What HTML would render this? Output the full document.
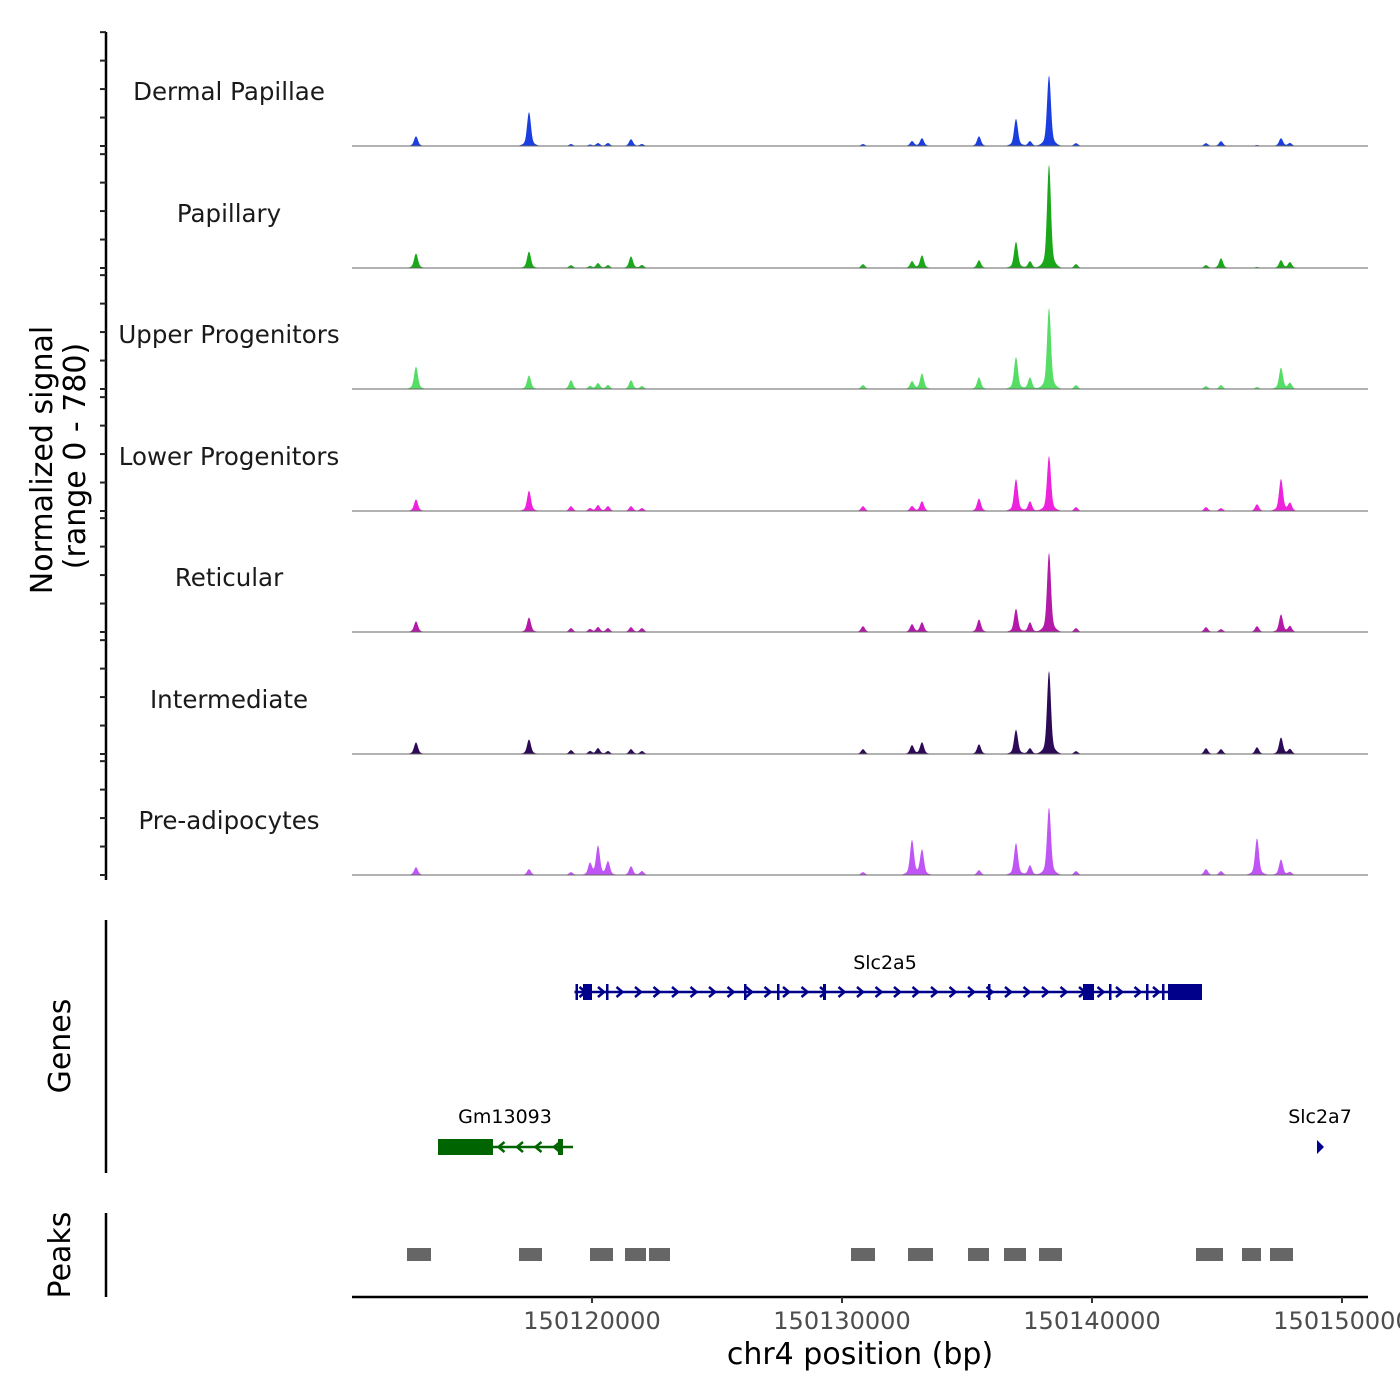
<!DOCTYPE html>
<html><head><meta charset="utf-8"><style>
body{margin:0;background:#fff}
svg{display:block;font-family:"DejaVu Sans","Liberation Sans",sans-serif}
</style></head><body>
<svg id="chart" width="1400" height="1400" viewBox="0 0 1400 1400"></svg>
<script>
const trackNames=["Dermal Papillae","Papillary","Upper Progenitors","Lower Progenitors","Reticular","Intermediate","Pre-adipocytes"];
const trackColors=["#1a3ee0","#1aa81a","#55dd66","#ee22dd","#b31aa8","#2d0a55","#c055f5"];
const peakPos=[150112960,150117480,150119160,150119920,150120240,150120640,150121560,150122000,150130840,150132800,150133200,150135480,150136960,150137520,150138280,150139360,150144560,150145160,150146600,150147560,150147920];
const sigDermal=[70,245,14,10,21,21,49,14,14,35,56,70,196,35,511,21,21,35,7,56,21];
const sigPapillary=[105,119,21,14,35,21,84,21,28,49,91,56,189,49,749,28,21,70,7,56,42];
const sigUpper=[161,98,63,21,42,28,63,21,28,56,112,84,231,84,588,28,21,28,14,154,42];
const sigLower=[84,147,35,21,42,35,35,21,35,35,70,91,231,70,399,28,28,21,49,231,56];
const sigReticular=[77,105,28,21,35,28,35,28,42,56,70,91,168,70,574,28,35,21,42,126,42];
const sigIntermediate=[84,105,28,21,42,21,35,21,35,63,84,70,175,42,602,21,42,35,49,119,35];
const sigPreadip=[56,42,21,84,210,98,63,28,21,252,182,35,231,70,490,28,42,28,266,112,21];
const allSignals=[sigDermal,sigPapillary,sigUpper,sigLower,sigReticular,sigIntermediate,sigPreadip];
const xTicks=[150120000,150130000,150140000,150150000];
const xTickLabels=["150120000","150130000","150140000","150150000"];
const yTicks=[0,200,400,600,800];
const peakStarts=[150112600,150117080,150119920,150121320,150122280,150130360,150132640,150135040,150136480,150137880,150144160,150146000,150147120];
const peakEnds=[150113560,150118000,150120840,150122160,150123120,150131320,150133640,150135880,150137360,150138800,150145240,150146760,150148040];
const geneNames=["Slc2a5","Gm13093","Slc2a7"];
const geneStarts=[150119300,150113840,150149080];
const geneEnds=[150144400,150119240,150149240];
const geneStrand=[1,-1,1];
const slcExonStarts=[150119340,150119640,150120560,150126080,150127400,150129240,150135840,150139640,150139960,150140680,150142160,150142800,150143040];
const slcExonEnds=[150119440,150120000,150120640,150126160,150127480,150129360,150135920,150140080,150140080,150140760,150142240,150142880,150144400];
const gmExonStarts=[150113840,150118640];
const gmExonEnds=[150116040,150118840];

const NS="http://www.w3.org/2000/svg";
const svg=document.getElementById("chart");
function el(tag,attrs,parent){const e=document.createElementNS(NS,tag);for(const k in attrs)e.setAttribute(k,attrs[k]);(parent||svg).appendChild(e);return e;}
const X0=352,X1=1368,BP0=150110400,BP_PER_PX=40;
function xs(bp){return X0+(bp-BP0)/BP_PER_PX;}
const PX_PER_UNIT=111/780;
const baselines=[146,268,389,511,632,754,875];

let ax=el("line",{x1:106,y1:32,x2:106,y2:880,stroke:"#000","stroke-width":2.5});


baselines.forEach((b,i)=>{
  yTicks.forEach(v=>{
    const y=b-v*PX_PER_UNIT;
    const t=el("line",{x1:100,y1:y,x2:106,y2:y,stroke:"#222","stroke-width":2});
    
    
  });
});
const yt=el("text",{transform:"translate(52,460) rotate(-90)","text-anchor":"middle","font-size":30,fill:"#000"});
yt.textContent="Normalized signal";


const yt2=el("text",{transform:"translate(85,456) rotate(-90)","text-anchor":"middle","font-size":30,fill:"#000"});
yt2.textContent="(range 0 - 780)";



allSignals.forEach((sig,i)=>{
  const b=baselines[i];
  const g=el("g",{});
  
  
  let d="M"+X0+","+b;
  for(let x=X0;x<=X1;x+=0.5){
    let h=0;
    peakPos.forEach((p,k)=>{
      const dx=(x-xs(p))/2.6;
      const dx2=(x-xs(p))/7;
      h+=sig[k]*(0.85*Math.exp(-dx*dx)+0.12*Math.exp(-dx2*dx2));
    });
    d+=" L"+x+","+(b-h*PX_PER_UNIT).toFixed(2);
  }
  d+=" L"+X1+","+b+" Z";
  el("path",{d:d,fill:trackColors[i],stroke:"none"},g);
  el("line",{x1:X0,y1:b,x2:X1,y2:b,stroke:"#666","stroke-width":1},g);
  const lab=el("text",{x:229,y:b-46,"text-anchor":"middle","font-size":24.5,fill:"#1a1a1a"},g);
  lab.textContent=trackNames[i];
  
  
});

let gax=el("line",{x1:106,y1:920,x2:106,y2:1173,stroke:"#000","stroke-width":2.5});


const gt=el("text",{transform:"translate(70,1046) rotate(-90)","text-anchor":"middle","font-size":30,fill:"#000"});
gt.textContent="Genes";


function drawGene(idx,y,color,exS,exE,lx,ly){
  const g=el("g",{});
  
  
  const a=xs(geneStarts[idx]),bb=xs(geneEnds[idx]);
  el("line",{x1:a,y1:y,x2:bb,y2:y,stroke:color,"stroke-width":2.5},g);
  for(let x=a+8;x<bb-4;x+=18.5){
    const s=geneStrand[idx];
    el("polyline",{points:(x-3*s)+","+(y-5)+" "+(x+3*s)+","+y+" "+(x-3*s)+","+(y+5),fill:"none",stroke:color,"stroke-width":2.5},g);
  }
  exS.forEach((s,k)=>{el("rect",{x:xs(s),y:y-8,width:Math.max(2.5,xs(exE[k])-xs(s)),height:16,fill:color},g);});
  const t=el("text",{x:lx,y:ly,"text-anchor":"middle","font-size":19,fill:"#000"},g);
  t.textContent=geneNames[idx];
}
drawGene(0,992,"#00008b",slcExonStarts,slcExonEnds,885,969);
drawGene(1,1147,"#006400",gmExonStarts,gmExonEnds,505,1123);
drawGene(2,1147,"#00008b",[],[],1320,1123);
el("polygon",{points:"1317,1140 1324,1147 1317,1154",fill:"#00008b"});

let pax=el("line",{x1:106,y1:1213,x2:106,y2:1297,stroke:"#000","stroke-width":2.5});


const pt=el("text",{transform:"translate(70,1255) rotate(-90)","text-anchor":"middle","font-size":30,fill:"#000"});
pt.textContent="Peaks";


peakStarts.forEach((s,k)=>{
  const r=el("rect",{x:xs(s),y:1248,width:xs(peakEnds[k])-xs(s),height:13,fill:"#666"});
  
  
});

let xa=el("line",{x1:X0,y1:1297,x2:X1,y2:1297,stroke:"#000","stroke-width":2.5});


xTicks.forEach((v,k)=>{
  const x=xs(v);
  const t=el("line",{x1:x,y1:1297,x2:x,y2:1303,stroke:"#333","stroke-width":2});
  
  
  const l=el("text",{x:x,y:1329,"text-anchor":"middle","font-size":24,fill:"#4d4d4d"});
  l.textContent=xTickLabels[k];
  
  
});
const xt=el("text",{x:860,y:1364,"text-anchor":"middle","font-size":30,fill:"#000"});
xt.textContent="chr4 position (bp)";


</script>
</body></html>
